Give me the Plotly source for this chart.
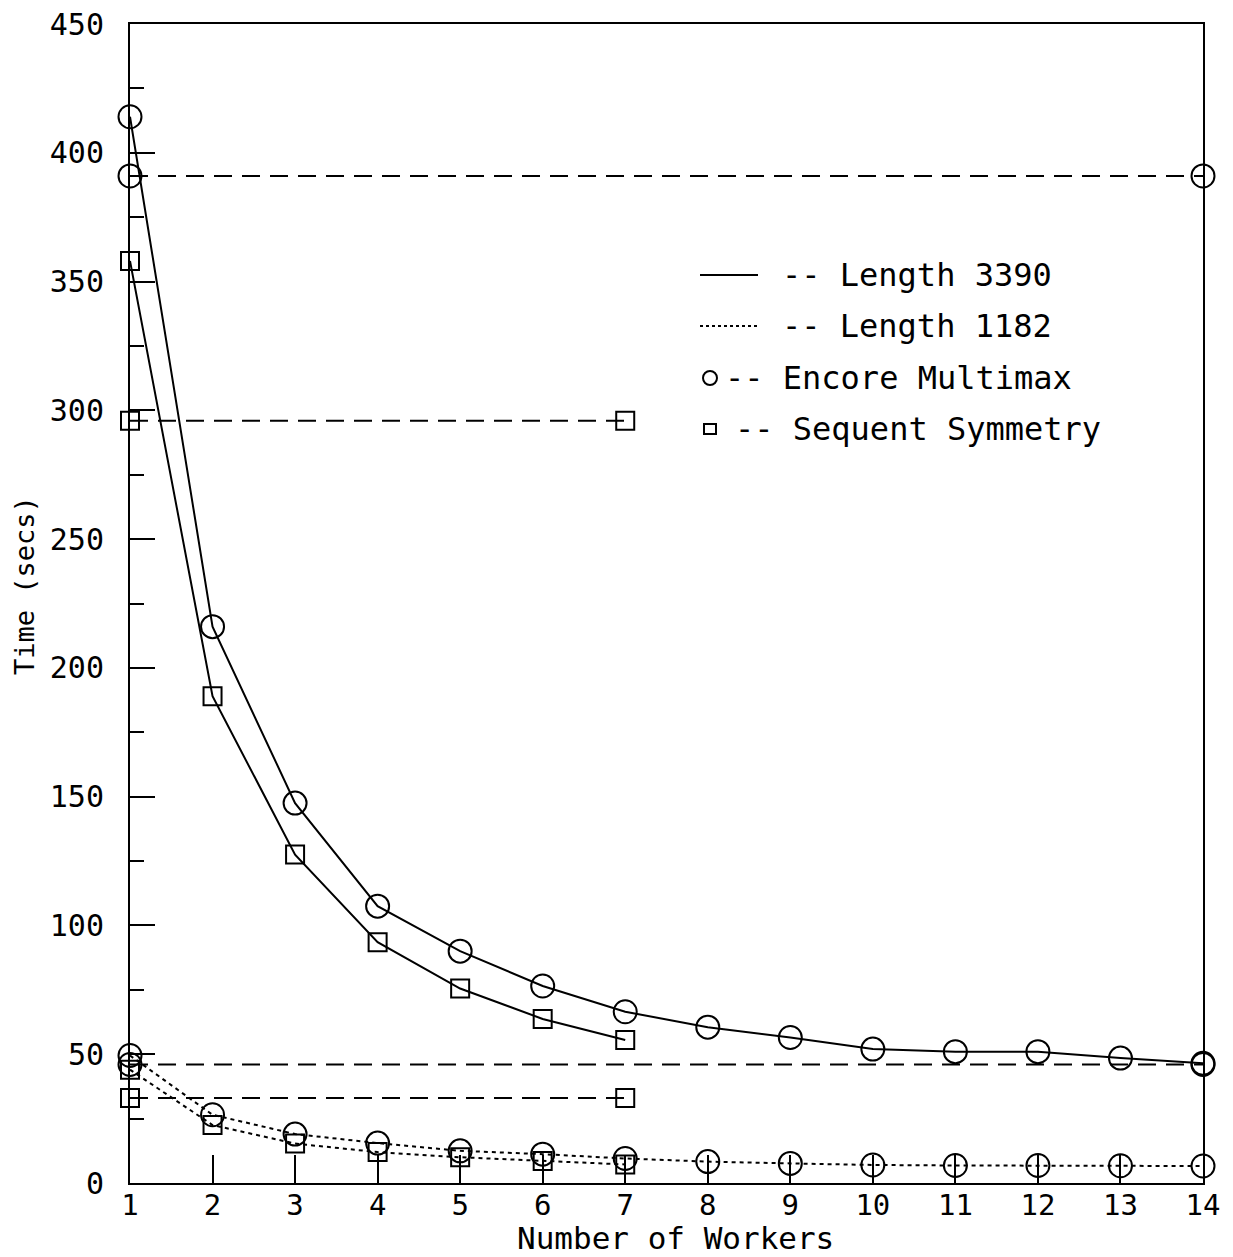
import plotly.graph_objects as go

# ---------------- data ----------------
workers_encore = [1, 2, 3, 4, 5, 6, 7, 8, 9, 10, 11, 12, 13, 14]
workers_sequent = [1, 2, 3, 4, 5, 6, 7]

encore_3390 = [414, 216, 147.5, 107.5, 90, 76.5, 66.5, 60.5, 56.5, 52, 51, 51, 48.5, 46.5]
sequent_3390 = [358, 189, 127.5, 93.5, 75.5, 63.7, 55.5]
encore_1182 = [49.5, 26.5, 19, 15.5, 12.5, 11.2, 9.5, 8.3, 7.6, 7.0, 6.8, 6.8, 6.7, 6.6]
sequent_1182 = [44, 22.5, 15.3, 12, 10, 8.5, 7.2]

# sequential reference times (drawn as dashed lines across the worker range)
seq_encore_3390 = 391
seq_sequent_3390 = 296
seq_encore_1182 = 46
seq_sequent_1182 = 33

x_ticks = list(range(1, 15))
y_ticks = list(range(0, 451, 50))

legend_labels = ["-- Length 3390", "-- Length 1182", "-- Encore Multimax", "-- Sequent Symmetry"]

# ---------------- styling ----------------
MONO = "DejaVu Sans Mono"
BLACK = "black"
CIRC = dict(symbol="circle-open", size=23, color=BLACK, line=dict(width=2, color=BLACK))
SQR = dict(symbol="square-open", size=18, color=BLACK, line=dict(width=2, color=BLACK))
DASH = "18px,10px"
DOT = "4px,4px"

fig = go.Figure()

def add(x, y, dash, marker, mode="lines+markers"):
    fig.add_trace(go.Scatter(x=x, y=y, mode=mode, line=dict(color=BLACK, width=2, dash=dash),
                             marker=marker, cliponaxis=False, showlegend=False, hoverinfo="skip"))

# sequential reference lines (dashed, markers at both ends)
ends_e = [workers_encore[0], workers_encore[-1]]
ends_s = [workers_sequent[0], workers_sequent[-1]]
add(ends_e, [seq_encore_3390] * 2, DASH, CIRC)
add(ends_s, [seq_sequent_3390] * 2, DASH, SQR)
add(ends_e, [seq_encore_1182] * 2, DASH, CIRC)
add(ends_s, [seq_sequent_1182] * 2, DASH, SQR)

# parallel timings
add(workers_encore, encore_3390, "solid", CIRC)
add(workers_sequent, sequent_3390, "solid", SQR)
add(workers_encore, encore_1182, DOT, CIRC)
add(workers_sequent, sequent_1182, DOT, SQR)

# page layout (the page body adds an 8px offset)
OFF = 8
W, H = 1217, 1249
L, R, T, B = 122, 22, 16, 74
pw, ph = W - L - R, H - T - B
plot_bottom_page = OFF + H - B

def px(xp):
    return (xp - OFF - L) / pw

def py(yp):
    return (plot_bottom_page - yp) / ph

fig.update_layout(
    width=W, height=H,
    margin=dict(l=L, r=R, t=T, b=B, autoexpand=False),
    paper_bgcolor="white", plot_bgcolor="white",
    font=dict(family=MONO, color=BLACK),
    showlegend=False,
)

fig.update_xaxes(
    range=[1, 14], tickvals=x_ticks, ticktext=[str(v) for v in x_ticks],
    ticks="inside", ticklen=28, tickwidth=2, tickcolor=BLACK,
    showline=True, linewidth=2, linecolor=BLACK, mirror=True,
    showgrid=False, zeroline=False, automargin=False,
    tickfont=dict(family=MONO, size=29, color=BLACK),
    ticklabelstandoff=-5, ticklabeloverflow="allow",
)
fig.update_yaxes(
    range=[0, 450], tickvals=y_ticks, ticktext=[str(v) for v in y_ticks],
    ticks="inside", ticklen=25, tickwidth=2, tickcolor=BLACK,
    minor=dict(dtick=25, ticks="inside", ticklen=14, tickwidth=2, tickcolor=BLACK, showgrid=False),
    showline=True, linewidth=2, linecolor=BLACK, mirror=True,
    showgrid=False, zeroline=False, automargin=False,
    tickfont=dict(family=MONO, size=30, color=BLACK),
    ticklabelstandoff=18, ticklabeloverflow="allow",
)

# axis titles
fig.add_annotation(text="Number of Workers", xref="paper", yref="paper",
                   x=px(675), y=py(1238), xanchor="center", yanchor="middle",
                   showarrow=False, font=dict(family=MONO, size=31, color=BLACK))
fig.add_annotation(text="Time (secs)", xref="paper", yref="paper",
                   x=px(24), y=py(586), xanchor="center", yanchor="middle", textangle=-90,
                   showarrow=False, font=dict(family=MONO, size=27, color=BLACK))

# legend (drawn by hand)
rows = [275, 326, 378, 429]
text_x = [780, 780, 723, 733]
for lab, ry, tx in zip(legend_labels, rows, text_x):
    fig.add_annotation(text=lab, xref="paper", yref="paper", x=px(tx), y=py(ry),
                       xanchor="left", yanchor="middle", showarrow=False,
                       font=dict(family=MONO, size=32, color=BLACK))

fig.add_shape(type="line", xref="paper", yref="paper", x0=px(700), x1=px(758),
              y0=py(rows[0]), y1=py(rows[0]), line=dict(color=BLACK, width=2))
fig.add_shape(type="line", xref="paper", yref="paper", x0=px(700), x1=px(758),
              y0=py(rows[1]), y1=py(rows[1]), line=dict(color=BLACK, width=2, dash="3px,3px"))
fig.add_shape(type="circle", xref="paper", yref="paper", xsizemode="pixel", ysizemode="pixel",
              xanchor=px(710), yanchor=py(rows[2]), x0=-7, x1=7, y0=-7, y1=7,
              line=dict(color=BLACK, width=2))
fig.add_shape(type="rect", xref="paper", yref="paper", xsizemode="pixel", ysizemode="pixel",
              xanchor=px(710), yanchor=py(rows[3]), x0=-6, x1=6, y0=-5, y1=5,
              line=dict(color=BLACK, width=2))

fig.write_html("out.html")
